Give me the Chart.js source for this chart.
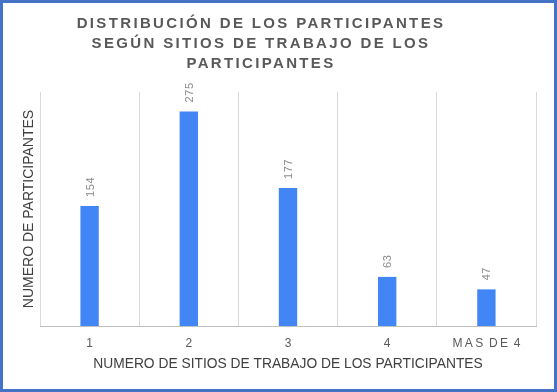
<!DOCTYPE html>
<html><head><meta charset="utf-8">
<script src="https://cdn.jsdelivr.net/npm/chart.js@4/dist/chart.umd.min.js"></script>
<style>
html,body{margin:0;padding:0;background:#fff;}
#wrap{width:557px;height:392px;box-sizing:border-box;border:3px solid #4472c4;position:relative;}
canvas{display:block;}
</style></head>
<body><div id="wrap"><canvas id="c" width="551" height="386"></canvas></div>
<script>
const titleLines = ["DISTRIBUCIÓN DE LOS PARTICIPANTES", "SEGÚN SITIOS DE TRABAJO DE LOS", "PARTICIPANTES"];
const categories = ["1", "2", "3", "4", "MAS DE 4"];
const participants = [154, 275, 177, 63, 47];
const xTitle = "NUMERO DE SITIOS DE TRABAJO DE LOS PARTICIPANTES";
const yTitle = "NUMERO DE PARTICIPANTES";

const FONT = '"Liberation Sans", Arial, sans-serif';

const titlePlugin = {
  id: 'spacedTitle',
  afterDraw(chart) {
    const ctx = chart.ctx;
    ctx.save();
    ctx.font = 'bold 15px ' + FONT;
    ctx.fillStyle = '#595959';
    ctx.textAlign = 'center';
    ctx.textBaseline = 'middle';
    ctx.letterSpacing = '2.35px';
    const cx = 258;
    titleLines.forEach((t, i) => ctx.fillText(t, cx, 21 + i * 20));
    ctx.restore();
  }
};
const labelPlugin = {
  id: 'barLabels',
  afterDatasetsDraw(chart) {
    const ctx = chart.ctx;
    const meta = chart.getDatasetMeta(0);
    ctx.save();
    ctx.font = '11px ' + FONT;
    ctx.letterSpacing = '0.6px';
    ctx.fillStyle = '#8c8c8c';
    ctx.textAlign = 'left';
    ctx.textBaseline = 'middle';
    meta.data.forEach((bar, i) => {
      ctx.save();
      ctx.translate(bar.x + 1, bar.y - 9);
      ctx.rotate(-Math.PI / 2);
      ctx.fillText(String(chart.data.datasets[0].data[i]), 0, 0);
      ctx.restore();
    });
    ctx.restore();
  }
};

new Chart(document.getElementById('c'), {
  type: 'bar',
  data: {
    labels: categories,
    datasets: [{
      data: participants,
      backgroundColor: '#4285f4',
      categoryPercentage: 1,
      barPercentage: 0.185
    }]
  },
  options: {
    responsive: false,
    animation: false,
    layout: { padding: { top: 89, right: 18, bottom: 17, left: 18 } },
    plugins: { legend: { display: false }, title: { display: false }, tooltip: { enabled: false } },
    scales: {
      x: {
        grid: { display: true, color: '#d9d9d9', offset: true, drawTicks: false },
        border: { display: true, color: '#bfbfbf' },
        ticks: {
          color: '#595959', font: { family: FONT, size: 12 }, padding: 10,
          callback: function(v, i) { return categories[i] === 'MAS DE 4' ? 'M\u2009A\u2009S\u2009 D\u2009E\u2009 4' : categories[i]; }
        },
        title: { display: true, text: xTitle, color: '#404040', font: { family: FONT, size: 13.8 }, padding: { top: -5, bottom: 0 } }
      },
      y: {
        min: 0, max: 300,
        grid: { display: false },
        border: { display: false },
        ticks: { display: false },
        afterFit(scale) { scale.width = 19; },
        title: { display: true, text: yTitle, color: '#404040', font: { family: FONT, size: 14 }, padding: { top: 0, bottom: 2 } }
      }
    }
  },
  plugins: [titlePlugin, labelPlugin]
});
</script></body></html>
